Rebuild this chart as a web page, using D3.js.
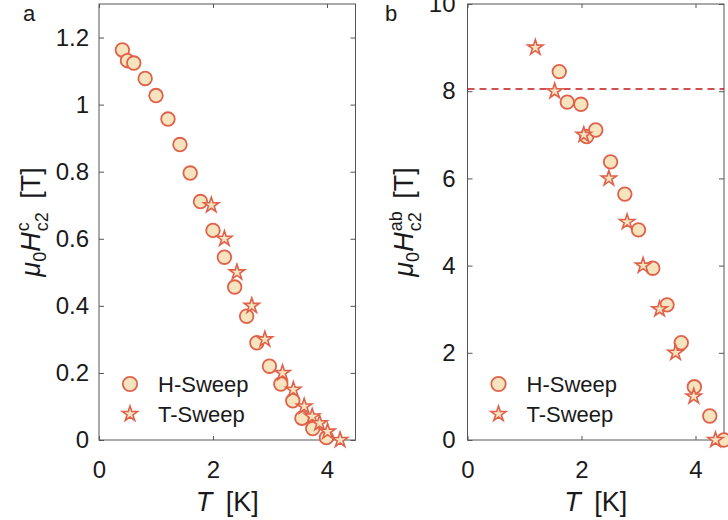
<!DOCTYPE html>
<html>
<head>
<meta charset="utf-8">
<script src="https://cdn.jsdelivr.net/npm/d3@7"></script>
<style>
  body { margin: 0; background: #fff; }
  text { font-family: "Liberation Sans", Arial, Helvetica, sans-serif; fill: #1a1a1a; }
</style>
</head>
<body>
<svg id="chart" width="728" height="520"></svg>
<script>
// panel a: out-of-plane Hc2
var aHsweepT = [0.41, 0.50, 0.61, 0.81, 1.00, 1.21, 1.42, 1.60, 1.78, 2.00, 2.20, 2.38, 2.59, 2.77, 2.99, 3.19, 3.40, 3.56, 3.75, 3.99];
var aHsweepH = [1.163, 1.131, 1.124, 1.078, 1.027, 0.957, 0.881, 0.796, 0.711, 0.625, 0.545, 0.456, 0.369, 0.290, 0.220, 0.167, 0.117, 0.065, 0.034, 0.007];
var aTsweepT = [1.97, 2.20, 2.42, 2.68, 2.91, 3.22, 3.41, 3.60, 3.74, 3.87, 4.01, 4.23];
var aTsweepH = [0.70, 0.60, 0.50, 0.40, 0.30, 0.20, 0.15, 0.10, 0.07, 0.05, 0.025, 0.0];
var aYTicks = [0, 0.2, 0.4, 0.6, 0.8, 1, 1.2];

// panel b: in-plane Hc2
var bHsweepT = [1.61, 1.75, 1.99, 2.09, 2.25, 2.51, 2.76, 3.00, 3.25, 3.50, 3.75, 3.98, 4.25, 4.50];
var bHsweepH = [8.45, 7.75, 7.70, 6.96, 7.11, 6.38, 5.64, 4.82, 3.94, 3.10, 2.23, 1.22, 0.55, 0.0];
var bTsweepT = [1.19, 1.53, 2.04, 2.48, 2.80, 3.08, 3.37, 3.65, 3.97, 4.35];
var bTsweepH = [9.0, 8.0, 7.0, 6.0, 5.0, 4.0, 3.0, 2.0, 1.0, 0.0];
var bYTicks = [0, 2, 4, 6, 8, 10];
var bLimit = 8.05;

var xTicks = [0, 2, 4];
var legendNames = ["H-Sweep", "T-Sweep"];

var fillCol = "#f6e4bf";
var edgeCol = "#e0614a";

var svg = d3.select("#chart");
var star = d3.symbol().type(d3.symbolStar).size(72);

function styleTicks(sel) {
  sel.select(".domain").remove();
  sel.selectAll("line").attr("stroke", "#555");
  sel.selectAll("text").attr("font-size", 24).attr("fill", "#1a1a1a")
    .attr("font-family", "Liberation Sans, Arial, sans-serif");
}

function drawPanel(p) {
  var x = d3.scaleLinear().domain([0, 4.5]).range([p.left, p.left + 256.5]);
  var y = d3.scaleLinear().domain([0, p.ymax]).range([440, 4]);
  var g = svg.append("g");

  // box
  g.append("rect")
    .attr("x", x(0)).attr("y", y(p.ymax))
    .attr("width", x(4.5) - x(0)).attr("height", y(0) - y(p.ymax))
    .attr("fill", "none").attr("stroke", "#555").attr("stroke-width", 1);

  // ticks, inward on all four sides
  var fmt = d3.format("~g");
  g.append("g").attr("transform", "translate(0,440)")
    .call(d3.axisBottom(x).tickValues(xTicks).tickSizeInner(-4).tickSizeOuter(0).tickPadding(21).tickFormat(fmt))
    .call(styleTicks);
  g.append("g").attr("transform", "translate(0,4)")
    .call(d3.axisTop(x).tickValues(xTicks).tickSize(-4).tickFormat(""))
    .call(styleTicks);
  g.append("g").attr("transform", "translate(" + x(0) + ",0)")
    .call(d3.axisLeft(y).tickValues(p.yTicks).tickSizeInner(-5).tickSizeOuter(0).tickPadding(p.ypad).tickFormat(fmt))
    .call(styleTicks);
  g.append("g").attr("transform", "translate(" + x(4.5) + ",0)")
    .call(d3.axisRight(y).tickValues(p.yTicks).tickSize(-5).tickFormat(""))
    .call(styleTicks);

  if (p.limit !== undefined) {
    g.append("line")
      .attr("x1", x(0)).attr("x2", x(4.5))
      .attr("y1", y(p.limit)).attr("y2", y(p.limit))
      .attr("stroke", "#c0161b").attr("stroke-width", 1.6)
      .attr("stroke-dasharray", "7,5");
  }

  // H-sweep circles
  g.selectAll("circle.h").data(p.hT).enter().append("circle")
    .attr("cx", function (d) { return x(d); })
    .attr("cy", function (d, i) { return y(p.hH[i]); })
    .attr("r", 6.8)
    .attr("fill", fillCol).attr("stroke", edgeCol).attr("stroke-width", 1.8);

  // T-sweep stars on top
  g.selectAll("path.t").data(p.tT).enter().append("path")
    .attr("d", star)
    .attr("transform", function (d, i) { return "translate(" + x(d) + "," + y(p.tH[i]) + ")"; })
    .attr("fill", fillCol).attr("stroke", edgeCol).attr("stroke-width", 1.6);

  // legend
  var lx = x(0) + 31, ly = 384;
  g.append("circle").attr("cx", lx).attr("cy", ly).attr("r", 7.2)
    .attr("fill", fillCol).attr("stroke", edgeCol).attr("stroke-width", 1.8);
  g.append("path").attr("d", star).attr("transform", "translate(" + lx + "," + (ly + 30) + ")")
    .attr("fill", fillCol).attr("stroke", edgeCol).attr("stroke-width", 1.6);
  legendNames.forEach(function (n, i) {
    g.append("text").attr("x", lx + 28).attr("y", ly + i * 30 + 8)
      .attr("font-size", 22).text(n);
  });

  // x label
  var xlab = g.append("text").attr("x", (x(0) + x(4.5)) / 2).attr("y", 511)
    .attr("text-anchor", "middle").attr("font-size", 27);
  xlab.append("tspan").attr("font-style", "italic").text("T");
  xlab.append("tspan").text("\u2002[K]");

  // y label
  var ylab = g.append("text")
    .attr("transform", "translate(" + p.ylabX + ",222) rotate(-90)")
    .attr("text-anchor", "middle").attr("font-size", 27);
  ylab.append("tspan").attr("font-style", "italic").text("\u03bc");
  ylab.append("tspan").attr("font-size", 18).attr("dy", 6).text("0");
  ylab.append("tspan").attr("font-style", "italic").attr("dy", -6).text("H");
  ylab.append("tspan").attr("font-size", 18).attr("dy", -11).attr("dx", 1).text(p.sup);
  ylab.append("tspan").attr("font-size", 18).attr("dy", 19).attr("dx", -p.supW).text("c2");
  ylab.append("tspan").attr("dy", -8).text("\u2002[T]");

  // panel letter
  svg.append("text").attr("x", p.letterX).attr("y", 21).attr("font-size", 22).text(p.letter);
}

drawPanel({ left: 99, ymax: 1.3, yTicks: aYTicks, ypad: 10, hT: aHsweepT, hH: aHsweepH, tT: aTsweepT, tH: aTsweepH,
  sup: "c", supW: 9, ylabX: 40, letter: "a", letterX: 23 });
drawPanel({ left: 467.5, ymax: 10, yTicks: bYTicks, ypad: 12, hT: bHsweepT, hH: bHsweepH, tT: bTsweepT, tH: bTsweepH,
  limit: bLimit, sup: "ab", supW: 20, ylabX: 413, letter: "b", letterX: 385 });
</script>
</body>
</html>
